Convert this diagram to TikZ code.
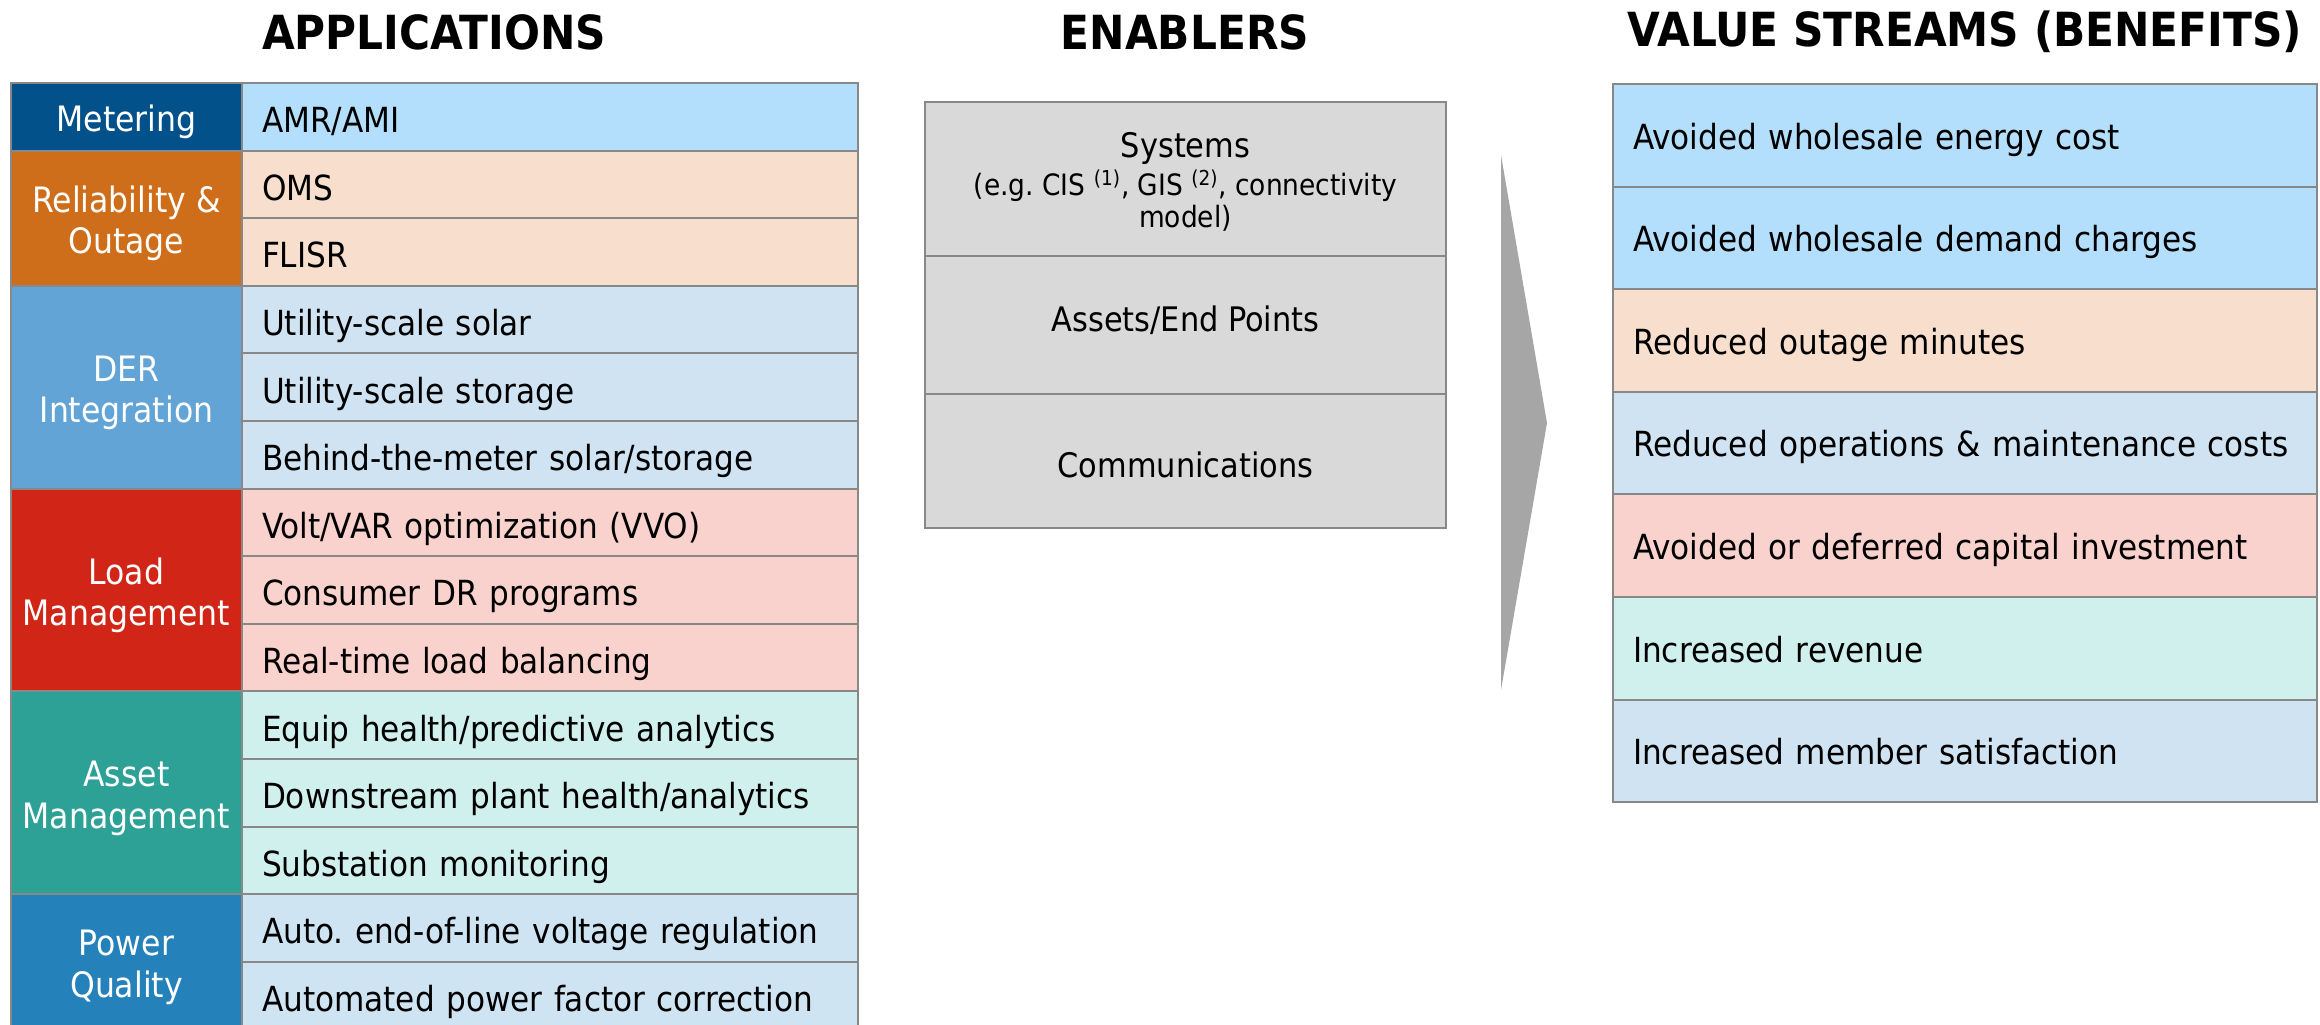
\documentclass[tikz,border=0pt]{standalone}
\usepackage{fontspec}
\setmainfont{DejaVu Sans Condensed}
\frenchspacing
\newcommand{\firstline}{\rule{0pt}{0.85em}}
\begin{document}
\begin{tikzpicture}[x=0.5pt,y=-0.5pt,
  cell/.style={draw=rulegray,line width=1pt,inner sep=0pt,outer sep=0pt,anchor=north west},
  cat/.style={cell,minimum width=115.5pt,text=white,align=center,text depth=0pt,
     font=\fontsize{17.5}{20.7}\selectfont},
  item/.style={cell,minimum width=308pt,minimum height=33.8pt,text width=288pt,align=left,
     font=\fontsize{17.3}{20}\selectfont,text depth=0pt,
     execute at begin node={\rule{0pt}{0.92em}}},
  gain/.style={cell,minimum width=352pt,minimum height=51.3pt,text width=332pt,align=left,
     font=\fontsize{17.3}{20}\selectfont,text depth=0pt,
     execute at begin node={\rule{0pt}{0.8em}}},
  enab/.style={cell,minimum width=260.5pt,fill=enabgray,align=center,
     font=\fontsize{16.9}{20}\selectfont},
  head/.style={font=\fontsize{23.5}{28}\selectfont\bfseries}]
\definecolor{rulegray}{HTML}{888888}
\definecolor{enabgray}{HTML}{D9D9D9}
\definecolor{arrowgray}{HTML}{A6A6A6}
\definecolor{meterdark}{HTML}{03518A}
\definecolor{meterlight}{HTML}{B4DFFC}
\definecolor{reldark}{HTML}{CF6E1A}
\definecolor{rellight}{HTML}{F8DFCD}
\definecolor{derdark}{HTML}{63A4D6}
\definecolor{derlight}{HTML}{CFE3F2}
\definecolor{loaddark}{HTML}{D12617}
\definecolor{loadlight}{HTML}{F9D1CD}
\definecolor{assetdark}{HTML}{2EA197}
\definecolor{assetlight}{HTML}{D0F0EE}
\definecolor{pqdark}{HTML}{2581BA}
\definecolor{pqlight}{HTML}{CFE4F2}
\useasboundingbox (0,0) rectangle (2320,1024);
\clip (0,0) rectangle (2320,1024);

% column headings
\node[head] (hApp) at (434,32) {APPLICATIONS};
\node[head] (hEna) at (1185,32) {ENABLERS};
\node[head] (hVal) at (1965,32) {VALUE STREAMS (BENEFITS)};

% applications: category column
\node[cat,fill=meterdark,minimum height=33.8pt] (cMeter) at (11,83) {\firstline Metering};
\node[cat,fill=reldark,minimum height=67.6pt] (cRel) at (11,150.6) {\firstline Reliability \&\\Outage};
\node[cat,fill=derdark,minimum height=101.4pt] (cDer) at (11,285.8) {\firstline DER\\Integration};
\node[cat,fill=loaddark,minimum height=101.4pt] (cLoad) at (11,488.6) {\firstline Load\\Management};
\node[cat,fill=assetdark,minimum height=101.4pt] (cAsset) at (11,691.4) {\firstline Asset\\Management};
\node[cat,fill=pqdark,minimum height=67.6pt] (cPq) at (11,894.2) {\firstline Power\\Quality};

% applications: item column
\node[item,fill=meterlight] (a1) at (242,83) {AMR/AMI};
\node[item,fill=rellight] (a2) at (242,150.6) {OMS};
\node[item,fill=rellight] (a3) at (242,218.2) {FLISR};
\node[item,fill=derlight] (a4) at (242,285.8) {Utility-scale solar};
\node[item,fill=derlight] (a5) at (242,353.4) {Utility-scale storage};
\node[item,fill=derlight] (a6) at (242,421) {Behind-the-meter solar/storage};
\node[item,fill=loadlight] (a7) at (242,488.6) {Volt/VAR optimization (VVO)};
\node[item,fill=loadlight] (a8) at (242,556.2) {Consumer DR programs};
\node[item,fill=loadlight] (a9) at (242,623.8) {Real-time load balancing};
\node[item,fill=assetlight] (a10) at (242,691.4) {Equip health/predictive analytics};
\node[item,fill=assetlight] (a11) at (242,759) {Downstream plant health/analytics};
\node[item,fill=assetlight] (a12) at (242,826.6) {Substation monitoring};
\node[item,fill=pqlight] (a13) at (242,894.2) {Auto. end-of-line voltage regulation};
\node[item,fill=pqlight] (a14) at (242,961.8) {Automated power factor correction};

% enablers
\node[enab,minimum height=77pt,text depth=0pt] (eSys) at (925,102)
  {\rule{0pt}{0.8em}Systems\\[-1pt]{\fontsize{14.7}{16}\selectfont (e.g. CIS \textsuperscript{(1)}, GIS \textsuperscript{(2)}, connectivity}\\[-4pt]{\fontsize{14.7}{16}\selectfont model)}};
\node[enab,minimum height=69pt] (eAss) at (925,256) {Assets/End Points\rule[-0.38em]{0pt}{0pt}};
\node[enab,minimum height=67pt,text depth=0pt] (eCom) at (925,394) {\rule{0pt}{0.95em}Communications};

% flow arrow between enablers and benefits
\coordinate (arTop) at (1501,155);
\coordinate (arTip) at (1547,423);
\coordinate (arBot) at (1501,690);
\fill[arrowgray] (arTop) -- (arTip) -- (arBot) -- cycle;

% value streams
\node[gain,fill=meterlight] (v1) at (1613,84) {Avoided wholesale energy cost};
\node[gain,fill=meterlight] (v2) at (1613,186.6) {Avoided wholesale demand charges};
\node[gain,fill=rellight] (v3) at (1613,289.2) {Reduced outage minutes};
\node[gain,fill=derlight] (v4) at (1613,391.8) {Reduced operations \& maintenance costs};
\node[gain,fill=loadlight] (v5) at (1613,494.4) {Avoided or deferred capital investment};
\node[gain,fill=assetlight] (v6) at (1613,597) {Increased revenue};
\node[gain,fill=derlight] (v7) at (1613,699.6) {Increased member satisfaction};
\end{tikzpicture}
\end{document}
